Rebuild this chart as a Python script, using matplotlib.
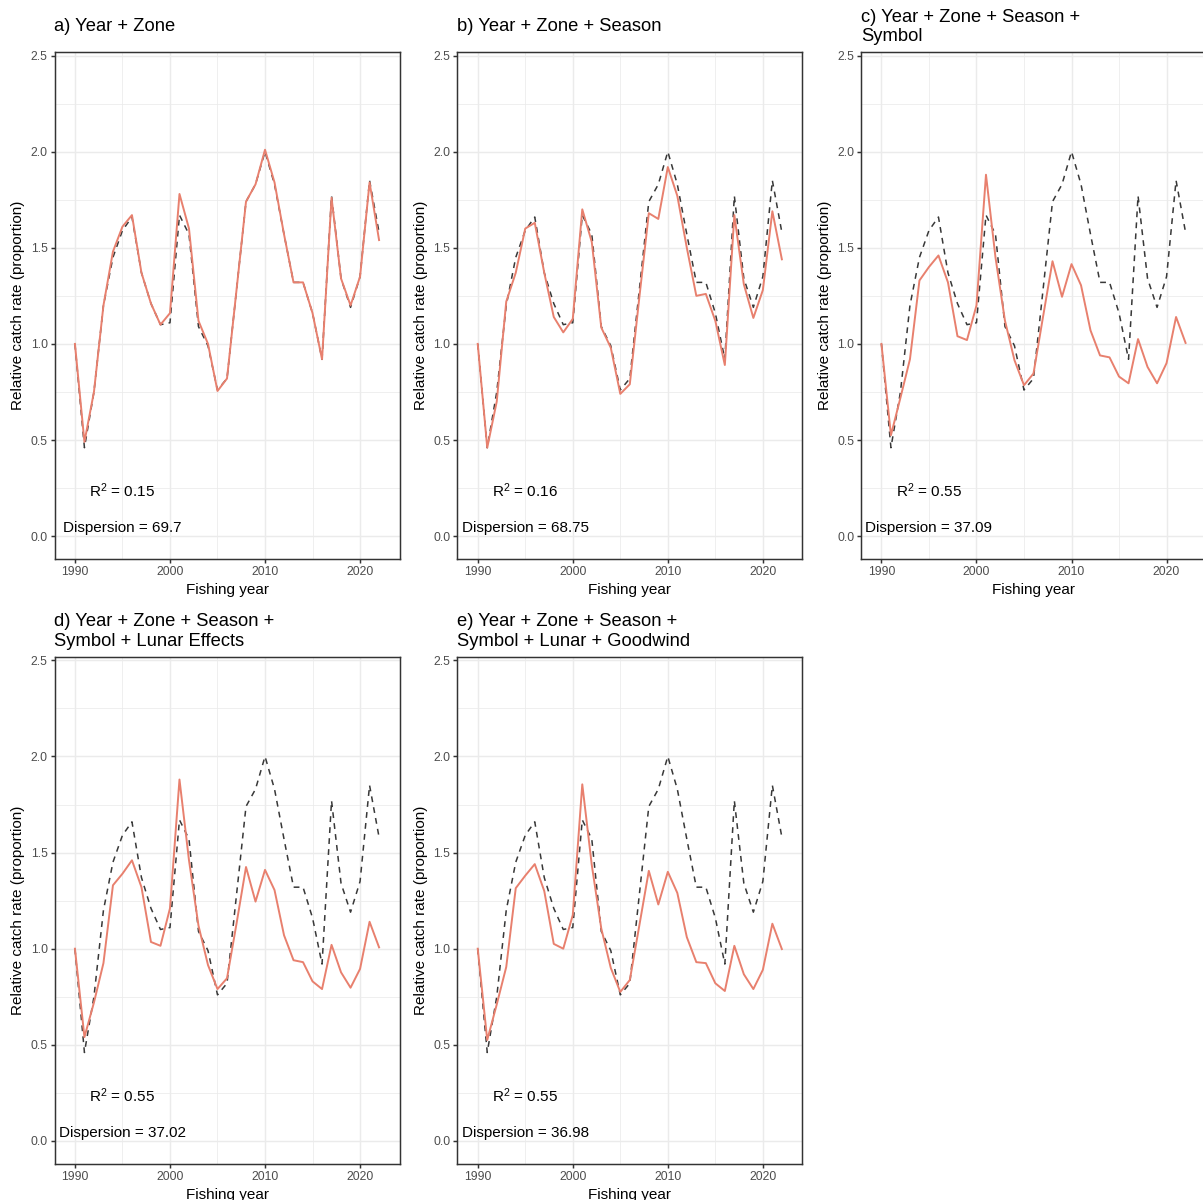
import matplotlib
matplotlib.use("Agg")
import matplotlib.pyplot as plt
from matplotlib.ticker import FixedLocator

plt.rcParams['font.family'] = ['Liberation Sans', 'DejaVu Sans']

years = list(range(1990, 2023))

nominal = [1.00, 0.46, 0.75, 1.20, 1.45, 1.59, 1.66, 1.37, 1.21, 1.10, 1.11,
           1.67, 1.57, 1.09, 0.99, 0.76, 0.82, 1.28, 1.74, 1.83, 2.00, 1.83,
           1.57, 1.32, 1.32, 1.16, 0.92, 1.77, 1.34, 1.19, 1.35, 1.85, 1.58]

model_a = [1.00, 0.49, 0.75, 1.20, 1.48, 1.61, 1.67, 1.37, 1.21, 1.10, 1.16,
           1.78, 1.60, 1.12, 1.00, 0.755, 0.82, 1.28, 1.74, 1.83, 2.01, 1.84,
           1.57, 1.32, 1.32, 1.16, 0.92, 1.76, 1.34, 1.20, 1.35, 1.84, 1.54]

model_b = [1.00, 0.46, 0.70, 1.22, 1.37, 1.60, 1.63, 1.37, 1.14, 1.06, 1.13,
           1.70, 1.53, 1.085, 0.98, 0.74, 0.79, 1.24, 1.68, 1.65, 1.92, 1.77,
           1.50, 1.25, 1.26, 1.12, 0.89, 1.67, 1.31, 1.135, 1.28, 1.69, 1.44]

model_c = [1.00, 0.525, 0.72, 0.92, 1.33, 1.40, 1.46, 1.32, 1.04, 1.02, 1.20,
           1.88, 1.45, 1.12, 0.915, 0.785, 0.846, 1.14, 1.43, 1.245, 1.415, 1.305,
           1.07, 0.94, 0.93, 0.83, 0.795, 1.025, 0.88, 0.795, 0.90, 1.14, 1.005]

model_d = [1.00, 0.54, 0.72, 0.925, 1.33, 1.39, 1.46, 1.32, 1.035, 1.015, 1.21,
           1.88, 1.46, 1.12, 0.915, 0.79, 0.846, 1.13, 1.425, 1.245, 1.41, 1.305,
           1.07, 0.94, 0.93, 0.83, 0.79, 1.02, 0.877, 0.797, 0.895, 1.14, 1.007]

model_e = [1.00, 0.525, 0.71, 0.905, 1.315, 1.38, 1.44, 1.30, 1.025, 1.00, 1.175,
           1.855, 1.435, 1.105, 0.90, 0.775, 0.837, 1.12, 1.405, 1.23, 1.40, 1.29,
           1.06, 0.93, 0.925, 0.82, 0.78, 1.015, 0.867, 0.79, 0.89, 1.13, 0.998]

titles = ["a) Year + Zone",
          "b) Year + Zone + Season",
          "c) Year + Zone + Season +\nSymbol",
          "d) Year + Zone + Season +\nSymbol + Lunar Effects",
          "e) Year + Zone + Season +\nSymbol + Lunar + Goodwind"]
r2_values = ["0.15", "0.16", "0.55", "0.55", "0.55"]
dispersion_values = ["69.7", "68.75", "37.09", "37.02", "36.98"]
models = [model_a, model_b, model_c, model_d, model_e]

x_ticks = [1990, 2000, 2010, 2020]
y_ticks = [0.0, 0.5, 1.0, 1.5, 2.0, 2.5]
y_tick_labels = ["0.0", "0.5", "1.0", "1.5", "2.0", "2.5"]

W, H = 1203, 1200
fig = plt.figure(figsize=(W / 100, H / 100), dpi=100)

panel_w, panel_h = 345, 507.5
positions = [(54.5, 51.7), (457.3, 51.7), (861.0, 51.7), (54.5, 656.5), (457.3, 656.5)]

salmon = "#E8806E"
dark = "#383838"
grid_col = "#EBEBEB"
border_col = "#333333"

for i, (left, top) in enumerate(positions):
    ax = fig.add_axes([left / W, 1 - (top + panel_h) / H, panel_w / W, panel_h / H])
    ax.plot(years, nominal, color=dark, lw=1.1, linestyle=(0, (3.8, 3.4)), zorder=3)
    ax.plot(years, models[i], color=salmon, lw=1.4, zorder=4)
    ax.set_xlim(1987.85, 2024.15)
    ax.set_ylim(-0.12, 2.52)
    ax.xaxis.set_major_locator(FixedLocator(x_ticks))
    ax.xaxis.set_minor_locator(FixedLocator([1995, 2005, 2015]))
    ax.yaxis.set_major_locator(FixedLocator(y_ticks))
    ax.yaxis.set_minor_locator(FixedLocator([0.25, 0.75, 1.25, 1.75, 2.25]))
    ax.set_yticklabels(y_tick_labels)
    ax.set_xticklabels([str(t) for t in x_ticks])
    ax.grid(True, which='major', color=grid_col, lw=1.07, zorder=0)
    ax.grid(True, which='minor', color=grid_col, lw=0.55, zorder=0)
    ax.set_axisbelow(True)
    ax.tick_params(which='major', direction='out', length=2.75, width=1.07,
                   color=border_col, labelsize=8.8, labelcolor='#4D4D4D', pad=2.2)
    ax.tick_params(which='minor', length=0)
    for sp in ax.spines.values():
        sp.set_color(border_col)
        sp.set_linewidth(1.07)
    ax.text(1995, 0.235, r"$\mathregular{R^2}$ = " + r2_values[i], ha='center', va='center',
            fontsize=11, color='black', zorder=5)
    ax.text(1995, 0.04, "Dispersion = " + dispersion_values[i], ha='center', va='center',
            fontsize=11, color='black', zorder=5)
    # title
    fig.text(left / W, 1 - (top - 25.0) / H, titles[i], ha='left', va='center',
             fontsize=13.2, linespacing=1.17, color='black')
    # y label
    fig.text((left - 36.5) / W, 1 - (top + panel_h / 2) / H,
             "Relative catch rate (proportion)", rotation=90, ha='center', va='center',
             fontsize=11, color='black')
    # x label
    fig.text((left + panel_w / 2) / W, 1 - (top + panel_h + 34.5) / H, "Fishing year",
             ha='center', va='baseline', fontsize=11, color='black')

fig.savefig("out.png", dpi=100, facecolor='white')
